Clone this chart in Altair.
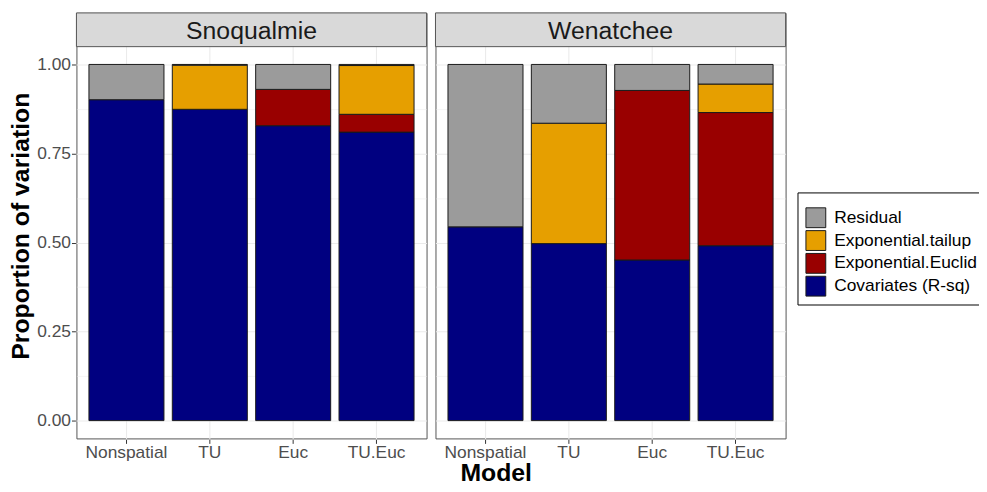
import altair as alt
import pandas as pd

sites = ["Snoqualmie", "Wenatchee"]
models = ["Nonspatial", "TU", "Euc", "TU.Euc"]
components = ["Covariates (R-sq)", "Exponential.Euclid", "Exponential.tailup", "Residual"]
legend_order = ["Residual", "Exponential.tailup", "Exponential.Euclid", "Covariates (R-sq)"]
colors = ["#9b9b9b", "#e69f00", "#990000", "#000080"]

# proportions per site, per model (Nonspatial, TU, Euc, TU.Euc)
snoq_covariates = [0.901, 0.874, 0.828, 0.810]
snoq_euclid = [0.0, 0.0, 0.102, 0.050]
snoq_tailup = [0.0, 0.124, 0.0, 0.137]
snoq_residual = [0.099, 0.002, 0.070, 0.003]

wen_covariates = [0.544, 0.497, 0.451, 0.491]
wen_euclid = [0.0, 0.0, 0.476, 0.374]
wen_tailup = [0.0, 0.338, 0.0, 0.080]
wen_residual = [0.456, 0.165, 0.073, 0.055]

y_ticks = [0, 0.125, 0.25, 0.375, 0.5, 0.625, 0.75, 0.875, 1.0]

site_values = {
    "Snoqualmie": [snoq_covariates, snoq_euclid, snoq_tailup, snoq_residual],
    "Wenatchee": [wen_covariates, wen_euclid, wen_tailup, wen_residual],
}

rows = []
for site in sites:
    for ci, comp in enumerate(components):
        for mi, model in enumerate(models):
            v = site_values[site][ci][mi]
            rows.append({"site": site, "model": model, "component": comp,
                         "ord": ci, "value": v})
df = pd.DataFrame(rows)

FONT = "Liberation Sans"
W = 353
PANEL_H = 395
STRIP_H = 34
H = PANEL_H + STRIP_H
y_top = -0.05 + 1.1 * H / PANEL_H

is_major = "(datum.value * 4) % 1 === 0"

x_enc = alt.X(
    "model:N", sort=models,
    scale=alt.Scale(paddingInner=0.1, paddingOuter=0.15),
    axis=alt.Axis(title=None, grid=True, bandPosition=0.5, labelAngle=0,
                  labelPadding=0, gridColor="#ebebeb", gridWidth=1.1),
)

bars = alt.Chart().mark_bar(stroke="#1a1a1a", strokeWidth=1).encode(
    x=x_enc,
    y=alt.Y(
        "value:Q", stack="zero",
        scale=alt.Scale(domain=[-0.05, y_top], nice=False, zero=False),
        axis=alt.Axis(
            title="Proportion of variation", values=y_ticks,
            labelExpr=f"{is_major} ? format(datum.value, '.2f') : ''",
            tickOpacity={"condition": {"test": is_major, "value": 1}, "value": 0},
            gridWidth={"condition": {"test": is_major, "value": 1.1}, "value": 0.5},
            gridColor="#ebebeb", titlePadding=3, labelPadding=1,
        ),
    ),
    color=alt.Color(
        "component:N",
        scale=alt.Scale(domain=legend_order, range=colors),
        legend=alt.Legend(title=" "),
    ),
    order=alt.Order("ord:Q", sort="ascending"),
).transform_filter("datum.value > 0")

one_row = f"datum.model === '{models[0]}' && datum.ord === 0"

strip_rect = alt.Chart().mark_rect(
    fill="#d9d9d9", stroke="#555555", strokeWidth=1
).encode(
    x=alt.value(0), x2=alt.value(W), y=alt.value(0), y2=alt.value(STRIP_H)
).transform_filter(one_row)

strip_text = alt.Chart().mark_text(
    font=FONT, fontSize=25, color="#1a1a1a", baseline="middle", align="center"
).encode(
    x=alt.value(W / 2), y=alt.value(STRIP_H / 2 + 1), text="site:N"
).transform_filter(one_row)

chart = alt.layer(bars, strip_rect, strip_text, data=df).properties(
    width=W, height=H
).facet(
    column=alt.Column("site:N", sort=sites, header=alt.Header(labels=False, title=None)),
    spacing=7,
).properties(
    title=alt.TitleParams("Model", orient="bottom", anchor="middle", font=FONT,
                          fontSize=25, fontWeight="bold", color="black", offset=0),
    autosize=alt.AutoSizeParams(type="none"),
    padding={"left": 69, "top": 3, "right": 910, "bottom": 473},
).configure_view(
    stroke="#555555", strokeWidth=1, fill="white"
).configure_axis(
    labelFont=FONT, labelFontSize=17.5, labelColor="#4d4d4d",
    tickColor="#333333", tickSize=4, domain=False,
    titleFont=FONT, titleFontSize=25, titleFontWeight="bold", titleColor="black",
).configure_legend(
    orient="none", legendX=727, legendY=181,
    strokeColor="black", strokeWidth=1, padding=6,
    titleFontSize=7, titlePadding=2, symbolOffset=2,
    symbolType="square", symbolSize=400, symbolStrokeColor="#1a1a1a",
    symbolStrokeWidth=1, labelFont=FONT, labelFontSize=17.5, labelColor="black",
    labelOffset=8, rowPadding=-5,
)

chart.save("out.html", embed_options={"renderer": "svg", "actions": False})
